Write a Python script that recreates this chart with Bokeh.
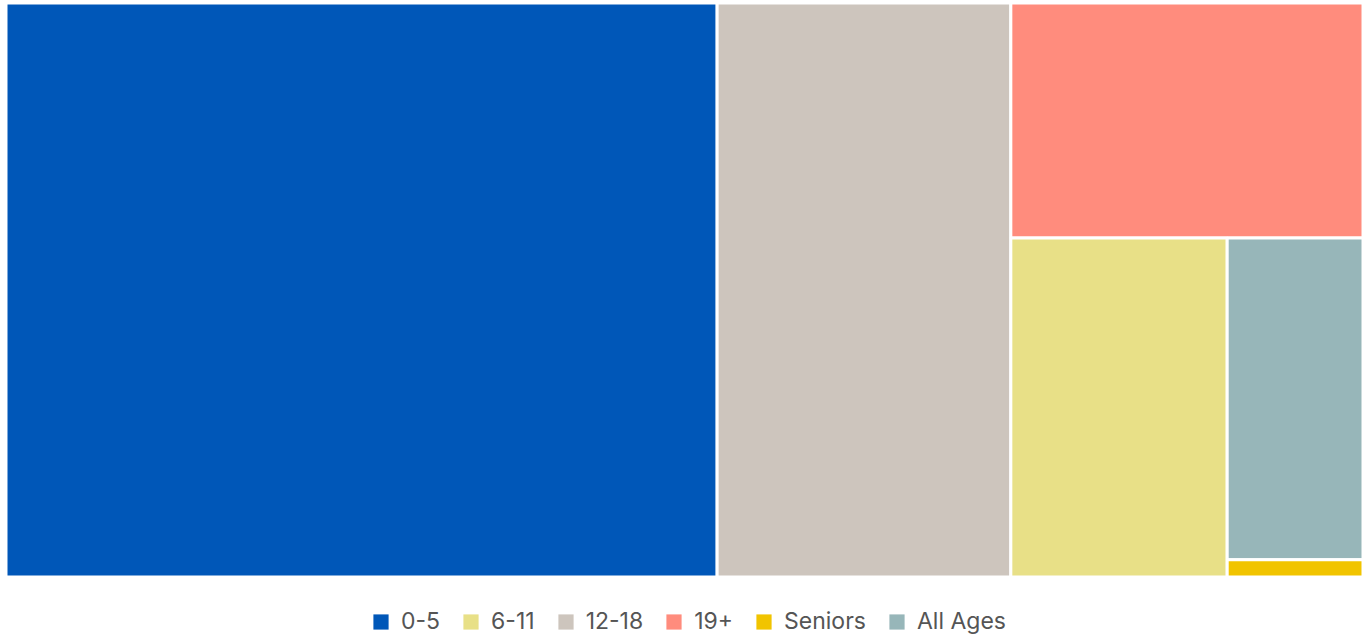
from bokeh.plotting import figure
from bokeh.models import Range1d, Legend, LegendItem, ColumnDataSource
from bokeh.embed import file_html
from bokeh.resources import INLINE

categories = ["0-5", "12-18", "19+", "6-11", "All Ages", "Seniors"]
values = [523, 216, 106, 94, 56, 3]
colors = ["#0057b8", "#cdc5bd", "#ff8c7d", "#e8e087", "#97b6b9", "#f1c400"]
legend_order = ["0-5", "6-11", "12-18", "19+", "Seniors", "All Ages"]

W, H = 1357.0, 574.0
FIG_W, FIG_H = 1362, 638
OFF_X, OFF_Y = 5.5, 2.5


def worst(row, side):
    s = sum(row)
    return max(max(side * side * r / (s * s), (s * s) / (side * side * r)) for r in row)


def layout_row(row, x, y, w, h, out):
    s = sum(row)
    if w >= h:
        cw = s / h
        cy = y
        for r in row:
            rh = r / cw
            out.append((x, cy, x + cw, cy + rh))
            cy += rh
        return x + cw, y, w - cw, h
    else:
        rh = s / w
        cx = x
        for r in row:
            rw = r / rh
            out.append((cx, y, cx + rw, y + rh))
            cx += rw
        return x, y + rh, w, h - rh


def squarify(areas, x, y, w, h):
    out = []
    areas = list(areas)
    row = []
    while areas:
        side = min(w, h)
        a = areas[0]
        if not row or worst(row + [a], side) <= worst(row, side):
            row.append(a)
            areas.pop(0)
        else:
            x, y, w, h = layout_row(row, x, y, w, h, out)
            row = []
    if row:
        layout_row(row, x, y, w, h, out)
    return out


total = float(sum(values))
areas = [v / total * W * H for v in values]
rects = squarify(areas, 0.0, 0.0, W, H)

src = ColumnDataSource(dict(
    left=[r[0] for r in rects],
    right=[r[2] for r in rects],
    top=[H - r[1] for r in rects],
    bottom=[H - r[3] for r in rects],
    color=colors,
    name=categories,
))

p = figure(width=FIG_W, height=FIG_H, output_backend="svg", toolbar_location=None,
           x_range=Range1d(-OFF_X, FIG_W - OFF_X),
           y_range=Range1d(H + OFF_Y - FIG_H, H + OFF_Y),
           min_border_left=0, min_border_right=0, min_border_top=0, min_border_bottom=0)
p.axis.visible = False
p.grid.visible = False
p.outline_line_color = None
p.background_fill_color = "white"

p.quad(left="left", right="right", top="top", bottom="bottom", source=src,
       fill_color="color", line_color="white", line_width=3)

items = []
for cat in legend_order:
    i = categories.index(cat)
    r = p.quad(left=[-200], right=[-190], top=[-200], bottom=[-210],
               fill_color=colors[i], line_color=None)
    items.append(LegendItem(label=cat, renderers=[r]))

legend = Legend(items=items, orientation="horizontal", location=(371, 3),
                label_text_font="Inter", label_text_font_size="23px",
                label_text_color="#555555", glyph_width=19, glyph_height=19,
                label_standoff=11, spacing=21, border_line_color=None,
                background_fill_alpha=0, padding=0, margin=0)
p.add_layout(legend, "center")

open("out.html", "w").write(file_html(p, INLINE))
